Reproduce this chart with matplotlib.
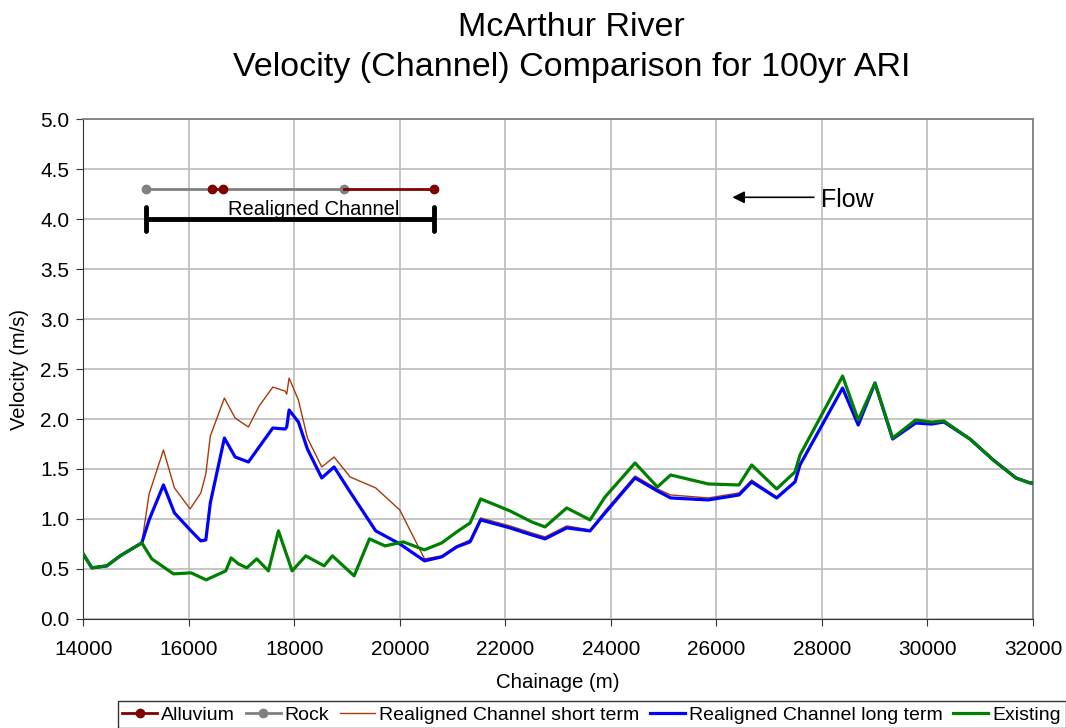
import matplotlib
matplotlib.use('Agg')
import matplotlib.pyplot as plt
import numpy as np

plt.rcParams['font.family'] = ['Liberation Sans', 'DejaVu Sans']

# Existing channel
ex_x = [14000, 14165, 14449, 14701, 15112, 15301, 15711, 16046, 16331, 16704,
        16804, 16943, 17101, 17290, 17511, 17701, 17960, 18219, 18566, 18724,
        19135, 19426, 19722, 20070, 20466, 20796, 21080, 21333, 21533, 22090,
        22501, 22754, 23164, 23606, 23891, 24459, 24882, 25134, 25847, 26429,
        26669, 27143, 27490, 27585, 28392, 28689, 29006, 29341, 29777, 30080,
        30313, 30806, 31248, 31678, 31943, 32100]
ex_v = [0.65, 0.51, 0.53, 0.63, 0.76, 0.60, 0.45, 0.46, 0.39, 0.48,
        0.61, 0.55, 0.51, 0.60, 0.48, 0.88, 0.48, 0.63, 0.53, 0.63,
        0.43, 0.80, 0.73, 0.77, 0.69, 0.76, 0.87, 0.96, 1.20, 1.08,
        0.97, 0.92, 1.11, 0.99, 1.22, 1.56, 1.32, 1.44, 1.35, 1.34,
        1.54, 1.30, 1.47, 1.64, 2.43, 1.99, 2.36, 1.81, 1.99, 1.97,
        1.98, 1.80, 1.59, 1.41, 1.36, 1.36]

# Realigned channel
re_x = [14000, 14165, 14449, 14701, 15112, 15250, 15522, 15730, 16027, 16230,
        16325, 16410, 16677, 16880, 17132, 17335, 17594, 17827, 17858, 17903,
        18080, 18250, 18522, 18756, 19059, 19545, 20000, 20470, 20796, 21080,
        21333, 21533, 22090, 22501, 22754, 23164, 23606, 23891, 24459, 24882,
        25134, 25847, 26429, 26669, 27143, 27490, 27585, 28392, 28689, 29006,
        29341, 29777, 30080, 30313, 30806, 31248, 31678, 31943, 32100]
long_v = [0.65, 0.51, 0.53, 0.63, 0.76, 0.99, 1.34, 1.06, 0.89, 0.78,
          0.79, 1.16, 1.81, 1.62, 1.57, 1.72, 1.91, 1.90, 1.92, 2.09,
          1.97, 1.70, 1.41, 1.52, 1.27, 0.88, 0.75, 0.58, 0.62, 0.72,
          0.77, 0.99, 0.91, 0.84, 0.80, 0.91, 0.88, 1.06, 1.41, 1.28,
          1.21, 1.19, 1.24, 1.37, 1.21, 1.37, 1.54, 2.31, 1.94, 2.36,
          1.80, 1.96, 1.95, 1.97, 1.80, 1.59, 1.41, 1.36, 1.36]
short_v = [0.65, 0.51, 0.53, 0.63, 0.76, 1.25, 1.69, 1.31, 1.10, 1.26,
           1.45, 1.83, 2.21, 2.01, 1.92, 2.13, 2.32, 2.28, 2.25, 2.41,
           2.19, 1.81, 1.52, 1.62, 1.42, 1.31, 1.09, 0.60, 0.63, 0.73,
           0.79, 1.01, 0.93, 0.86, 0.82, 0.93, 0.89, 1.08, 1.43, 1.30,
           1.24, 1.21, 1.26, 1.39, 1.22, 1.38, 1.55, 2.31, 1.94, 2.36,
           1.80, 1.96, 1.95, 1.97, 1.80, 1.59, 1.41, 1.36, 1.36]

# geology strip and realigned reach
rock_x = [15194, 16450, np.nan, 16647, 18945]
alluv_x = [16450, 16647, np.nan, 18945, 20650]
strip_y = 4.3
reach_x = [15194, 20650]
reach_y = 4.0

fig = plt.figure(figsize=(10.66, 7.28), dpi=100)
ax = fig.add_axes([0.078, 0.150, 0.891, 0.686])

ax.plot(re_x, short_v, color='#a83a08', lw=1.0, label='Realigned Channel short term', zorder=3)
ax.plot(re_x, long_v, color='#0000ff', lw=2.3, label='Realigned Channel long term', zorder=4)
ax.plot(ex_x, ex_v, color='#008000', lw=2.3, label='Existing', zorder=5)

ax.plot(alluv_x, [strip_y] * 5, color='#800000', lw=2, marker='o', ms=6,
        markevery=[0, 1, 4], label='Alluvium', zorder=5)
ax.plot(rock_x, [strip_y] * 5, color='#808080', lw=2, marker='o', ms=6,
        markevery=[0, 4], label='Rock', zorder=4)

# realigned channel bar
ax.plot(reach_x, [reach_y] * 2, color='black', lw=3.5, solid_capstyle='butt', zorder=5)
for xx in reach_x:
    ax.plot([xx, xx], [reach_y - 0.12, reach_y + 0.12], color='black', lw=3.5,
            solid_capstyle='round', zorder=5)
ax.text(np.mean(reach_x) + 440, reach_y + 0.005, 'Realigned Channel', ha='center',
        va='bottom', fontsize=14.5, zorder=6)

# flow arrow
ax.annotate('', xy=(26250, 4.22), xytext=(27900, 4.22),
            arrowprops=dict(arrowstyle='-|>', color='black', lw=1.2, mutation_scale=18))
ax.text(27980, 4.19, 'Flow', fontsize=18, va='center', ha='left')

ax.set_xlim(14000, 32000)
ax.set_ylim(0, 5.0)
ax.set_xticks(np.arange(14000, 32001, 2000))
ax.set_yticks(np.arange(0, 5.01, 0.5))
ax.set_yticklabels(['%.1f' % v for v in np.arange(0, 5.01, 0.5)])
ax.grid(True, color='#c0c0c0', lw=1.3)
ax.set_axisbelow(True)
ax.tick_params(labelsize=15, direction='out', length=5, color='#333333', pad=5)
ax.tick_params(axis='x', pad=10)
for s in ['top', 'right']:
    ax.spines[s].set_color('#808080')
    ax.spines[s].set_linewidth(1.3)
for s in ['left', 'bottom']:
    ax.spines[s].set_color('#333333')

ax.set_xlabel('Chainage (m)', fontsize=14.7, labelpad=10)
ax.set_ylabel('Velocity (m/s)', fontsize=14.5, labelpad=8)

fig.text(0.536, 0.935, 'McArthur River\nVelocity (Channel) Comparison for 100yr ARI',
         fontsize=24.5, ha='center', va='center', linespacing=1.35)

handles, labels = ax.get_legend_handles_labels()
order = [3, 4, 0, 1, 2]
leg = fig.legend([handles[i] for i in order], [labels[i] for i in order],
                 loc='lower center', bbox_to_anchor=(0.555, -0.014), ncol=5,
                 fontsize=14, frameon=True, fancybox=False, edgecolor='black',
                 handlelength=1.8, handletextpad=0.2, columnspacing=0.55,
                 borderpad=0.25)
leg.get_frame().set_linewidth(1.0)

fig.savefig('out.png', dpi=100)
